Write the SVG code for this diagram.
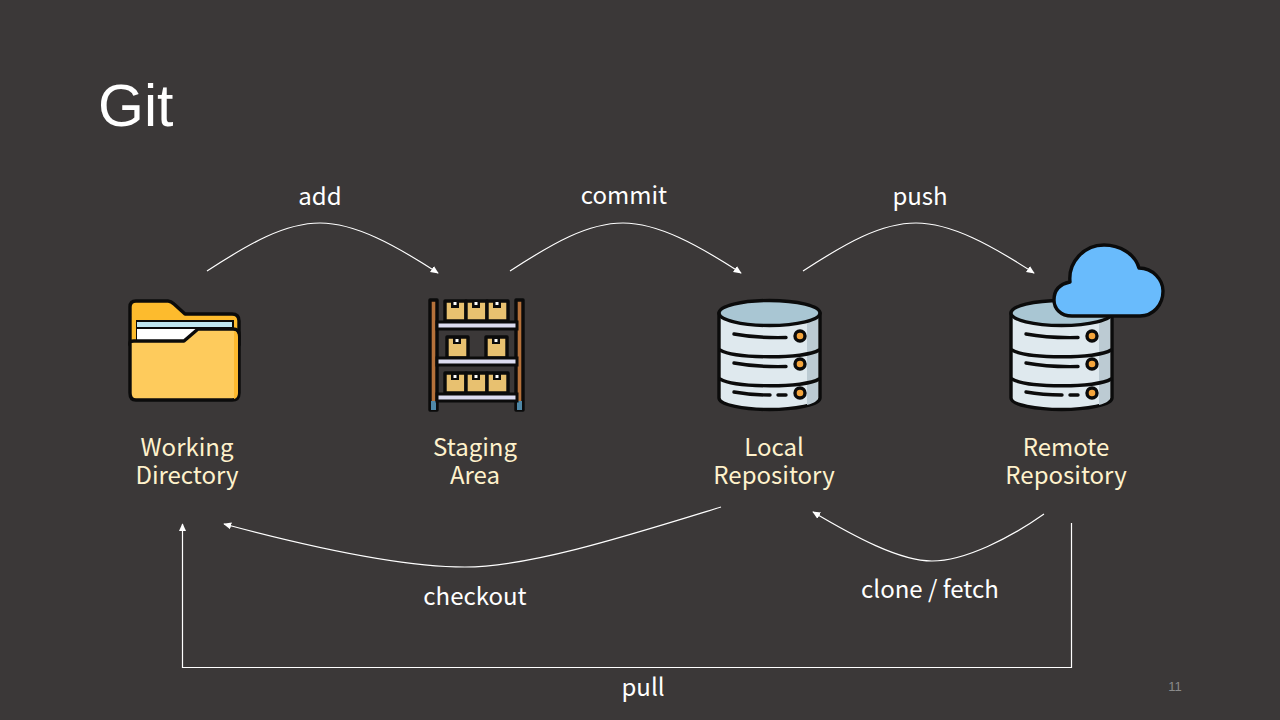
<svg xmlns="http://www.w3.org/2000/svg" xmlns:xlink="http://www.w3.org/1999/xlink" width="1280" height="720" viewBox="0 0 1280 720">
<style>
.lb{font-family:"Noto Sans CJK KR","Noto Sans",sans-serif;font-size:24px;text-anchor:middle}
.w{fill:#fff}.c{fill:#fff2cc}
.cn{fill:none;stroke:#fff;stroke-width:1.2}
.k{stroke:#0b0b0b;stroke-width:3.4;stroke-linejoin:round;stroke-linecap:round}
.bx{fill:#e8c170;stroke:#0b0b0b;stroke-width:3.4;stroke-linejoin:round}
.sh{fill:#dcdcf0;stroke:#0b0b0b;stroke-width:3}
</style>
<defs>
<marker id="a" viewBox="0 0 10 10" refX="9" refY="5" markerWidth="8" markerHeight="8" markerUnits="userSpaceOnUse" orient="auto"><path d="M0 0.5L10 5L0 9.500z" fill="#fff"/></marker>
<g id="db">
<path d="M719 313V398C719 405 745 409.500 769.500 409.500S820 405 820 398V313z" fill="#dfe9ee" class="k"/>
<path d="M807 318V405C815 403 818 400 818 397V315z" fill="#bccbd3"/>
<ellipse cx="769.500" cy="313" rx="50.500" ry="12.500" fill="#a9c6d3" class="k"/>
<path d="M720 350C735 359 805 359 819 350M720 379C735 388 805 388 819 379" fill="none" class="k"/>
<path d="M734 334C750 337 765 338 786 337.500M734 363C750 366 765 367 786 366.500M734 392C745 394 755 395 770 395M778 395H786" fill="none" class="k"/>
<g fill="#f5a53c" class="k"><circle cx="800" cy="336" r="5"/><circle cx="800" cy="364" r="5"/><circle cx="800" cy="393" r="5"/></g>
</g>
</defs>
<rect width="1280" height="720" fill="#3b3838"/>
<text x="98" y="126" font-family="Liberation Sans,Arial,sans-serif" font-size="59" fill="#fff">Git</text>
<g id="connectors">
<path class="cn" marker-end="url(#a)" d="M207 271C250 243 285 223 320 223C355 223 395 245 438 273"/>
<path class="cn" marker-end="url(#a)" d="M510 271C553 243 588 223 623 223C658 223 698 245 741 273"/>
<path class="cn" marker-end="url(#a)" d="M803 271C846 243 881 223 916 223C951 223 991 245 1034 273"/>
<path class="cn" marker-end="url(#a)" d="M721 507C630 535 530 567 465 567C400 567 310 547 224 524"/>
<path class="cn" marker-end="url(#a)" d="M1044 514C1010 538 965 561 932 561C900 561 855 537 813 512"/>
<path class="cn" marker-end="url(#a)" d="M1071.500 523V667.500H182.500V524"/>
</g>
<g id="edge-labels">
<text class="lb w" x="320" y="205">add</text>
<text class="lb w" x="624" y="204">commit</text>
<text class="lb w" x="920" y="205">push</text>
<text class="lb w" x="475" y="605">checkout</text>
<text class="lb w" x="930" y="598">clone / fetch</text>
<text class="lb w" x="643" y="696">pull</text>
</g>
<g id="working-directory">
<path d="M130 345V307Q130 301 136 301H168Q171 301 174 304L185 314H232Q239 314 239 321V345z" fill="#fdbb2d" class="k"/>
<rect x="136" y="320" width="98" height="22" fill="#0b0b0b"/>
<rect x="137" y="322" width="95" height="5" fill="#bfe6f0"/>
<path d="M137 329H198L184 341H137z" fill="#fff"/>
<path d="M130 343Q130 341 134 341H184L198 329H233Q239 329 239 335V393Q239 400 232 400H136Q130 400 130 393z" fill="#fecb5c" class="k"/>
<path d="M234 331Q238 332 238 337V393Q238 398 234 399z" fill="#fdb92e"/>
<text class="lb c" x="187" y="456">Working</text>
<text class="lb c" x="187" y="484">Directory</text>
</g>
<g id="staging-area">
<rect x="430" y="300" width="7" height="110" fill="#b5713a" class="k"/>
<rect x="516" y="300" width="7" height="110" fill="#b5713a" class="k"/>
<rect x="431" y="401" width="5" height="9" fill="#4f87a6"/>
<rect x="517" y="401" width="5" height="9" fill="#4f87a6"/>
<rect class="bx" x="445" y="301" width="21" height="20"/><rect class="bx" x="466" y="301" width="21" height="20"/><rect class="bx" x="487" y="301" width="21" height="20"/>
<rect class="bx" x="447" y="337" width="21" height="21"/><rect class="bx" x="486" y="337" width="21" height="21"/>
<rect class="bx" x="445" y="373" width="21" height="20"/><rect class="bx" x="466" y="373" width="21" height="20"/><rect class="bx" x="487" y="373" width="21" height="20"/>
<g fill="#0b0b0b"><rect x="451" y="301" width="8" height="7"/><rect x="472" y="301" width="8" height="7"/><rect x="493" y="301" width="8" height="7"/><rect x="453" y="337" width="8" height="7"/><rect x="492" y="337" width="8" height="7"/><rect x="451" y="373" width="8" height="7"/><rect x="472" y="373" width="8" height="7"/><rect x="493" y="373" width="8" height="7"/></g>
<g fill="#fff"><rect x="453.500" y="302" width="3" height="3"/><rect x="474.500" y="302" width="3" height="3"/><rect x="495.500" y="302" width="3" height="3"/><rect x="455.500" y="339" width="3" height="3"/><rect x="494.500" y="339" width="3" height="3"/><rect x="453.500" y="375" width="3" height="3"/><rect x="474.500" y="375" width="3" height="3"/><rect x="495.500" y="375" width="3" height="3"/></g>
<rect class="sh" x="437" y="322" width="80" height="7"/>
<rect class="sh" x="437" y="358" width="80" height="7"/>
<rect class="sh" x="437" y="394" width="80" height="7"/>
<text class="lb c" x="475" y="456">Staging</text>
<text class="lb c" x="475" y="484">Area</text>
</g>
<g id="local-repository">
<use xlink:href="#db" href="#db"/>
<text class="lb c" x="774" y="456">Local</text>
<text class="lb c" x="774" y="484">Repository</text>
</g>
<g id="remote-repository">
<use xlink:href="#db" href="#db" x="292"/>
<path d="M1072 316C1060 316 1054 308 1054 300C1054 290 1060 284 1070 282C1068 262 1084 245 1104 245C1120 245 1135 254 1139 268C1153 268 1163 280 1163 291C1163 305 1153 316 1140 316z" fill="#69bbfc" class="k"/>
<text class="lb c" x="1066" y="456">Remote</text>
<text class="lb c" x="1066" y="484">Repository</text>
</g>
<text x="1175" y="691" font-family="Liberation Sans,Arial,sans-serif" font-size="13" fill="#8a8a8a" text-anchor="middle">11</text>
</svg>
